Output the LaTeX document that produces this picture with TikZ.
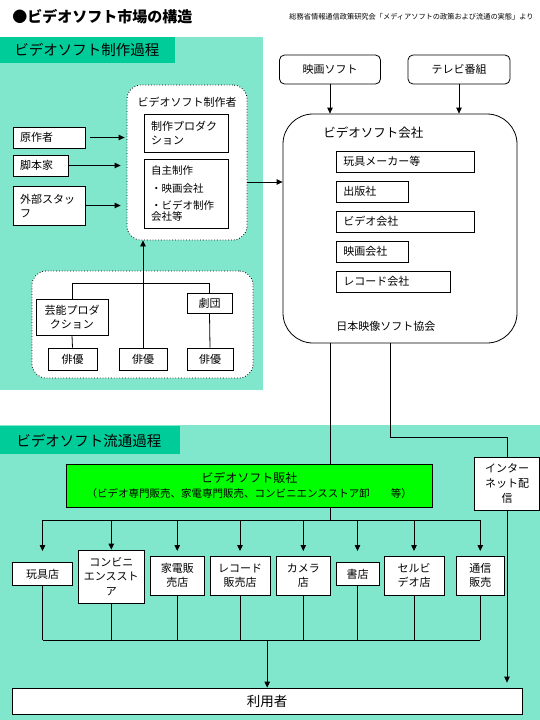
\documentclass[tikz,border=0pt]{standalone}
\usepackage{fontspec}
\setmainfont{Noto Sans CJK JP}
\usepackage{tikz}
\usetikzlibrary{arrows.meta}
\usepackage{xcolor}
\definecolor{bar}{RGB}{0,204,153}
\definecolor{dots}{RGB}{128,230,204}
\definecolor{hangreen}{RGB}{0,255,0}

\begin{document}
\begin{tikzpicture}[x=1pt,y=-1pt,line width=.8pt,
  box/.style={draw,fill=white,inner sep=0pt,align=center,font=\fontsize{11}{14}\selectfont},
  lbox/.style={box,align=left,inner xsep=7pt},
  rbox/.style={box,rounded corners=5pt},
  grp/.style={draw,dotted,fill=white,rounded corners=14pt,inner sep=0pt},
  arr/.style={-{Triangle[length=6pt,width=5.5pt]}},
  ttl/.style={anchor=west,inner sep=0pt,font=\fontsize{14.5}{16}\selectfont}]
\useasboundingbox (0,0) rectangle (540,720);
\fill[dots] (0,37) rectangle (263,390);
\fill[dots] (0,425) rectangle (540,720);
\fill[bar] (0,37) rectangle (175,63);
\fill[bar] (0,426) rectangle (180,454);
\node[anchor=west,inner sep=0pt,font=\fontsize{15}{16}\selectfont\bfseries] (title) at (12,17) {●ビデオソフト市場の構造};
\node[anchor=east,inner sep=0pt,font=\fontsize{7.2}{8}\selectfont] (src) at (534,17) {総務省情報通信政策研究会「メディアソフトの政策および流通の実態」より};
\node[ttl] (sec1) at (14,50) {ビデオソフト制作過程};
\node[ttl] (sec2) at (16,440.5) {ビデオソフト流通過程};

\node[lbox,text width=58pt,minimum height=21pt] (genA) at (49,137.5) {原作者};
\node[lbox,text width=41pt,minimum height=21pt] (kyaku) at (40.5,165.5) {脚本家};
\node[lbox,text width=58pt,minimum height=39pt] (gaibu) at (49,205.5) {外部スタッ\\フ};

\node[grp,minimum width=120pt,minimum height=155pt] (prodgrp) at (187,162.5) {};
\node[font=\fontsize{11}{14}\selectfont,inner sep=0pt] (prodlbl) at (187,102) {ビデオソフト制作者};
\node[lbox,text width=70pt,minimum height=38pt] (prodco) at (186,133) {制作プロダク\\ション};
\node[lbox,text width=70pt,minimum height=69pt,font=\fontsize{10.5}{13}\selectfont] (jishu) at (186,193.5) {自主制作\\[5pt]・映画会社\\[4pt]・ビデオ制作\\[-1.5pt]会社等};
\draw[arr,shorten >=2pt] ([xshift=5pt]genA.east) -- (genA.east -| prodgrp.west);
\draw[arr,shorten >=6pt] (kyaku.east) -- (kyaku.east -| prodgrp.west);
\draw[arr,shorten >=6pt] (gaibu.east) -- (gaibu.east -| prodgrp.west);

\node[grp,minimum width=221pt,minimum height=107pt] (actgrp) at (142.5,324.5) {};
\node[box,minimum width=72pt,minimum height=36pt] (geino) at (72,317) {芸能プロダ\\クション};
\node[box,minimum width=45pt,minimum height=20pt] (gekidan) at (209.5,303) {劇団};
\node[box,minimum width=49pt,minimum height=22pt] (haiyu1) at (72.5,359) {俳優};
\node[box,minimum width=48pt,minimum height=22pt] (haiyu2) at (143,359) {俳優};
\node[box,minimum width=46pt,minimum height=22pt] (haiyu3) at (210,359) {俳優};
\coordinate (actbar) at (0,283);
\draw (geino.north) -- (geino.north |- actbar) -- (gekidan.north |- actbar) -- (gekidan.north);
\draw (geino.south) -- (haiyu1.north);
\draw (gekidan.south) -- (haiyu3.north);
\draw[arr] (haiyu2.north) -- (haiyu2.north |- prodgrp.south);

\node[draw,fill=white,rounded corners=30pt,minimum width=234pt,minimum height=229pt,inner sep=0pt] (company) at (400,228.5) {};
\node[rbox,minimum width=101pt,minimum height=29pt] (eiga) at (330,69.5) {映画ソフト};
\node[rbox,minimum width=102pt,minimum height=29pt] (tv) at (459,69.5) {テレビ番組};
\draw[arr] (eiga.south) -- (eiga.south |- company.north);
\draw[arr] (tv.south) -- (tv.south |- company.north);
\draw[arr] (prodgrp.east) ++(0,19.5) coordinate (p1) -- (p1 -| company.west);
\node[anchor=west,inner sep=0pt,font=\fontsize{12.5}{14}\selectfont] (complbl) at (323,133) {ビデオソフト会社};
\node[lbox,anchor=west,text width=124pt,minimum height=21pt] (gangu) at (336,161.5) {玩具メーカー等};
\node[lbox,anchor=west,text width=58pt,minimum height=21pt] (shuppan) at (336,191.5) {出版社};
\node[lbox,anchor=west,text width=124pt,minimum height=21pt] (videoco) at (336,221.5) {ビデオ会社};
\node[lbox,anchor=west,text width=58pt,minimum height=21pt] (eigaco) at (336,251.5) {映画会社};
\node[lbox,anchor=west,text width=100pt,minimum height=21pt] (record) at (336,281.5) {レコード会社};
\node[anchor=west,inner sep=0pt,font=\fontsize{11}{14}\selectfont] (jva) at (336,326) {日本映像ソフト協会};

\node[box,fill=hangreen,minimum width=365.5pt,minimum height=43pt] (hansha) at (249.25,485.5) {{\fontsize{12}{14}\selectfont ビデオソフト販社}\\[1pt]{\fontsize{10.5}{12}\selectfont （ビデオ専門販売、家電専門販売、コンビニエンスストア卸　　等）}};
\node[box,minimum width=64.5pt,minimum height=53pt,font=\fontsize{11}{15}\selectfont] (inet) at (507,483.5) {インター\\ネット配\\信};
\coordinate (rx) at (390,437);
\draw (eiga.south |- company.south) -- (eiga.south |- hansha.north);
\draw (rx |- company.south) -- (rx) -| (inet.north);

\node[box,minimum width=60pt,minimum height=23.5pt] (s1) at (42.5,574) {玩具店};
\node[box,minimum width=66.6pt,minimum height=53pt,font=\fontsize{11}{14.5}\selectfont] (s2) at (111.3,576.5) {コンビニ\\エンススト\\ア};
\node[box,minimum width=53.5pt,minimum height=39pt] (s3) at (177.25,575.5) {家電販\\売店};
\node[box,minimum width=60pt,minimum height=39pt] (s4) at (240,575.5) {レコード\\販売店};
\node[box,minimum width=54.6pt,minimum height=39pt] (s5) at (303.3,575.5) {カメラ\\店};
\node[box,minimum width=43pt,minimum height=23.5pt] (s6) at (357.5,574) {書店};
\node[box,minimum width=60pt,minimum height=39pt] (s7) at (414,575.5) {セルビ\\デオ店};
\node[box,minimum width=48.5pt,minimum height=39pt] (s8) at (480.25,575.5) {通信\\販売};
\node[box,minimum width=509.6pt,minimum height=26.5pt,font=\fontsize{13.5}{15}\selectfont] (user) at (267.2,701.25) {利用者};

\coordinate (dist) at (0,520);
\coordinate (tip) at (0,551);
\coordinate (coll) at (0,640);
\draw (eiga.south |- hansha.south) -- (eiga.south |- dist);
\draw (s1.north |- dist) -- (s8.north |- dist);
\foreach \s in {s1,s3,s4,s5,s6,s7,s8}
  \draw[arr] (\s.north |- dist) -- (\s.north |- tip);
\draw[arr] (s2.north |- dist) -- (s2.north);
\foreach \s in {s1,s2,s3,s4,s5,s6,s7,s8}
  \draw (\s.south) -- (\s.south |- coll);
\draw (s1.south |- coll) -- (s8.south |- coll);
\draw[arr] (user.north |- coll) -- (user.north);
\draw[arr,shorten >=5pt] (inet.south) -- (inet.south |- user.north);
\end{tikzpicture}
\end{document}
